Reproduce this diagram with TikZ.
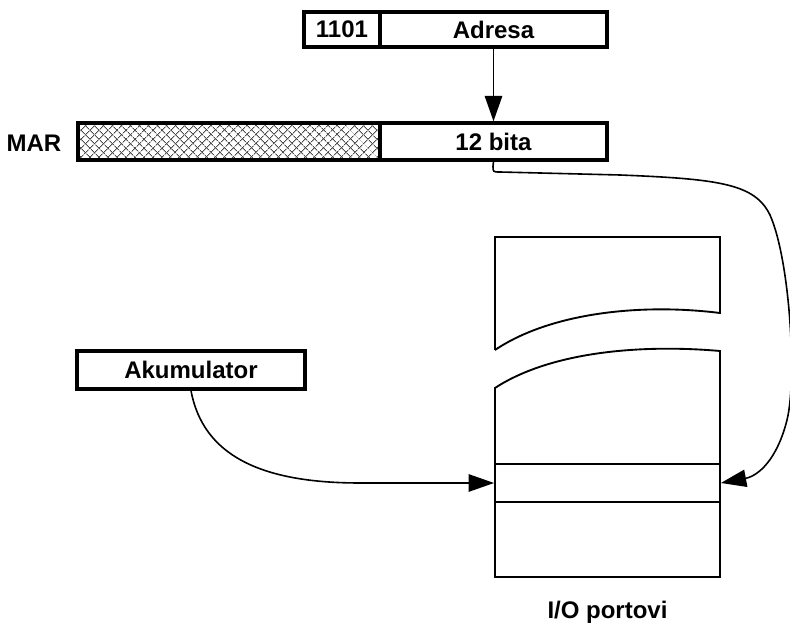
\documentclass[tikz,border=0pt]{standalone}
\usepackage{fontspec}
\setmainfont{Liberation Sans}
\usepackage{tikz}
\usetikzlibrary{arrows.meta,patterns.meta}

\begin{document}
\begin{tikzpicture}[
  x=0.75pt, y=-0.75pt,
  font=\fontsize{18}{21}\selectfont\bfseries,
  field/.style={draw, line width=2.5pt, minimum height=26.25pt, inner sep=0pt, fill=white},
  slot/.style={draw, line width=1.4pt, minimum width=168.75pt, minimum height=28.5pt, inner sep=0pt, fill=white},
  flow/.style={-{Triangle[length=19pt,width=13pt]}, line width=1.2pt},
  block/.style={line width=1.4pt}
]
\useasboundingbox (0,0) rectangle (790,634);

% instrukcija
\node[field, minimum width=57pt] (op) at (342,29.5) {1101};
\node[field, minimum width=170.25pt] (adr) at (493.5,29.5) {Adresa};

% MAR
\node[field, fill=none, minimum width=226.5pt, minimum height=27.75pt,
  preaction={fill=white},
  preaction={pattern={Lines[angle=45,distance=5.4pt,line width=0.75pt]}, pattern color=gray!60!black},
  preaction={pattern={Lines[angle=-45,distance=5.4pt,line width=0.75pt]}, pattern color=gray!60!black}] (hatch) at (229,141.5) {};
\node[field, minimum width=170.25pt, minimum height=27.75pt] (bita) at (493.5,141.5) {12 bita};
\node[anchor=east] (mar) at (66,143) {MAR};

\node[field, minimum width=171pt, minimum height=28.5pt] (akum) at (191,370) {Akumulator};

% I/O prostor
\draw[block] (495,350) -- (495,237) -- (720,237) -- (720,313)
  .. controls (640,303) and (550,313) .. (495,350);
\draw[block] (495,388) .. controls (550,352) and (640,344) .. (720,351)
  -- (720,577) -- (495,577) -- cycle;
\node[slot] (port) at (607.5,483) {};
\node (io) at (607.5,612) {I/O portovi};

\draw[flow] (adr.south) -- (bita.north);
\draw[flow] (bita.south) -- (493,166) .. controls (493,172) .. (500,172)
  -- (620,175) .. controls (720,179) and (755,184) .. (770,215)
  .. controls (790,260) and (797,380) .. (787,420)
  .. controls (777,460) and (758,476) .. (port.east);
\draw[flow] (akum.south) .. controls (203,455) and (260,483) .. (360,483) -- (port.west);
\end{tikzpicture}
\end{document}
